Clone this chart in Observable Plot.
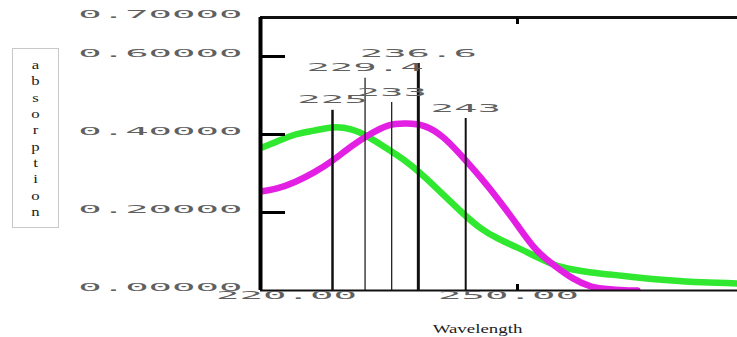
<!DOCTYPE html>
<html><head><meta charset="utf-8">
<script src="https://cdn.jsdelivr.net/npm/d3@7"></script>
<script src="https://cdn.jsdelivr.net/npm/@observablehq/plot@0.6"></script>
<style>body{margin:0;background:#fff}</style>
</head><body><div id="chart"></div>
<script>
// ---- data ----
const greenWavelengths = [215,217.5,220,222.5,225,227.5,230,232.5,235,237.5,240,242.5,245,247.5,250,252.5,255,257.5,260,262.5,265,267.5,270,275,280];
const greenAbs = [0.363,0.382,0.400,0.410,0.418,0.413,0.392,0.362,0.330,0.290,0.245,0.200,0.160,0.132,0.110,0.087,0.066,0.054,0.046,0.041,0.036,0.031,0.027,0.021,0.018];
const magentaWavelengths = [215,217.5,220,222.5,225,227.5,230,232.5,235,237.5,240,242.5,245,247.5,250,252.5,255,257.5,260,262.5,265,266.2];
const magentaAbs = [0.253,0.262,0.279,0.303,0.333,0.369,0.400,0.423,0.428,0.421,0.392,0.344,0.290,0.231,0.167,0.105,0.064,0.031,0.010,0.003,0.000,0.000];
const peakWavelengths = [225, 229.4, 233, 236.6, 243];
const peakHeights = [0.462, 0.544, 0.482, 0.582, 0.441];
const peakLabels = ["225", "229.4", "233", "236.6", "243"];
const yTicks = [0, 0.2, 0.4, 0.6, 0.7];
const yTickLabels = ["0.00000", "0.20000", "0.40000", "0.60000", "0.70000"];
const yTickMarks = [0.2, 0.4, 0.6];
const xTicks = [220, 250];
const xTickLabels = ["220.00", "250.00"];
const xTickMarks = [250];
const xDomain = [215.27, 279.73];
const yDomain = [0, 0.7];
const xLabel = "Wavelength";
const yLabel = "absorption";

const green = greenWavelengths.map((w, i) => ({w, a: greenAbs[i]}));
const magenta = magentaWavelengths.map((w, i) => ({w, a: magentaAbs[i]}));
const peaks = peakWavelengths.map((w, i) => ({w, h: peakHeights[i], label: peakLabels[i]}));
const peakWidths = [2.5, 1.2, 1.2, 3, 2];

const svg = Plot.plot({
  width: 737, height: 337,
  marginLeft: 260, marginRight: 0, marginTop: 17, marginBottom: 47,
  x: {domain: xDomain, label: null},
  y: {domain: yDomain, label: null},
  style: {background: "#fff", fontFamily: "DejaVu Sans Mono", fontSize: "10px", color: "#555", overflow: "visible"},
  marks: [
    Plot.line(green, {x: "w", y: "a", stroke: "#2fe82f", strokeWidth: 6.5, curve: "natural", clip: true}),
    Plot.line(magenta, {x: "w", y: "a", stroke: "#e21fe2", strokeWidth: 6.5, curve: "natural", clip: true}),
    Plot.ruleX(peaks, {x: "w", y1: 0, y2: "h", stroke: "#111", strokeWidth: (d, i) => peakWidths[i]}),
    Plot.text(peaks, {x: "w", y: "h", text: "label", dy: -7, textAnchor: "middle", fontSize: 10, fill: "#606060"}),
    Plot.ruleY([yDomain[0]], {stroke: "#111", strokeWidth: 2}),
    Plot.ruleY([yDomain[1]], {stroke: "#111", strokeWidth: 3}),
    Plot.ruleX([xDomain[0]], {stroke: "#000", strokeWidth: 4}),
    Plot.axisY(yTicks, {tickSize: 0, tickPadding: 18, tickFormat: d => yTickLabels[yTicks.indexOf(d)], fill: "#606060", label: null}),
    Plot.axisY(yTickMarks, {tickSize: -25, strokeWidth: 3, stroke: "#000", tickFormat: () => "", label: null}),
    Plot.axisX(xTicks, {anchor: "bottom", tickSize: 0, tickPadding: 8, dx: -9, tickFormat: d => xTickLabels[xTicks.indexOf(d)], fill: "#606060", label: null}),
    Plot.axisX(xTickMarks, {anchor: "bottom", tickSize: -6, strokeWidth: 3, stroke: "#000", tickFormat: () => "", label: null}),
    Plot.axisX(xTickMarks, {anchor: "top", tickSize: -6, strokeWidth: 3, stroke: "#000", tickFormat: () => "", label: null}),
    Plot.text([xLabel], {frameAnchor: "bottom", dy: 42, dx: -21.5, fontFamily: "Liberation Serif", fontSize: 13.5, fill: "#222"})
  ]
});

function stretch(t, s) {
  const x = +t.getAttribute("x") || 0, y = +t.getAttribute("y") || 0;
  t.removeAttribute("x"); t.removeAttribute("y");
  const tr = t.getAttribute("transform") || "";
  t.setAttribute("transform", `${tr} translate(${x},${y}) scale(${s},1)`);
}
const wide = new Set([...yTickLabels, ...xTickLabels, ...peakLabels]);
svg.querySelectorAll("text").forEach(t => {
  const c = t.textContent;
  if (wide.has(c)) stretch(t, 3.9);
  else if (c === xLabel) stretch(t, 1.4);
});

const s = d3.select(svg);
s.append("rect").attr("x", 12.5).attr("y", 48.5).attr("width", 46).attr("height", 179)
  .attr("fill", "none").attr("stroke", "#c8c8c8");
const yl = s.append("text").attr("font-family", "Liberation Serif").attr("font-size", 12)
  .attr("text-anchor", "middle").attr("fill", "#1a1a1a")
  .attr("transform", "translate(35.5,0) scale(1.4,1)");
yLabel.split("").forEach((c, i) => yl.append("tspan").attr("x", 0).attr("y", 69 + i * 16.33).text(c));

document.getElementById("chart").appendChild(svg);
</script>
</body></html>
